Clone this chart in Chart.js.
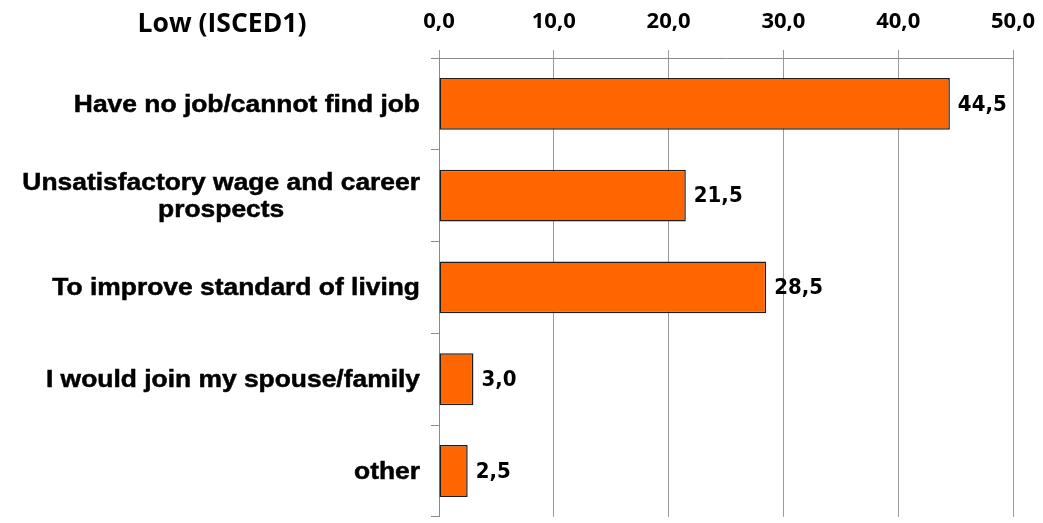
<!DOCTYPE html>
<html>
<head>
<meta charset="utf-8">
<script src="https://cdn.jsdelivr.net/npm/chart.js@4"></script>
<style>
  html, body { margin: 0; padding: 0; background: #fff; overflow: hidden; }
  #wrap { width: 1043px; height: 527px; position: relative; }
</style>
</head>
<body>
<div id="wrap"><canvas id="chart"></canvas></div>
<script>
// Données du graphique
const chartTitle = 'Low (ISCED1)';
const categories = [
    'Have no job/cannot find job',
    ['Unsatisfactory wage and career', 'prospects'],
    'To improve standard of living',
    'I would join my spouse/family',
    'other'
];
const values = [44.5, 21.5, 28.5, 3.0, 2.5];
const xTicks = [0, 10, 20, 30, 40, 50];

const fmt = v => v.toFixed(1).replace('.', ',');

// Titre en haut à gauche
const titlePlugin = {
    id: 'titlePlugin',
    afterDraw(chart) {
        const ctx = chart.ctx;
        ctx.save();
        ctx.font = 'bold 26.5px "Open Sans"';
        ctx.fillStyle = '#000';
        ctx.textAlign = 'center';
        ctx.textBaseline = 'alphabetic';
        ctx.fillText(chartTitle, 222, 32);
        ctx.restore();
    }
};

// Libellés des catégories (alignés à droite, lignes centrées entre elles)
const categoryLabels = {
    id: 'categoryLabels',
    afterDraw(chart) {
        const ctx = chart.ctx;
        const yScale = chart.scales.y;
        const right = 420;
        const lineH = 27;
        const sx = 1.1;   // texte un peu étiré comme dans l'original
        ctx.save();
        ctx.font = 'bold 24px "Liberation Sans"';
        ctx.fillStyle = '#000';
        ctx.strokeStyle = '#000';
        ctx.lineWidth = 0.5;
        ctx.textAlign = 'center';
        ctx.textBaseline = 'middle';
        categories.forEach((lab, i) => {
            const lines = Array.isArray(lab) ? lab : [lab];
            const w = Math.max(...lines.map(l => ctx.measureText(l).width)) * sx;
            const cx = right - w / 2;
            const cy = yScale.getPixelForTick(i) + 1;
            lines.forEach((l, k) => {
                const y = cy + (k - (lines.length - 1) / 2) * lineH;
                ctx.save();
                ctx.translate(cx, y);
                ctx.scale(sx, 1);
                ctx.fillText(l, 0, 0);
                ctx.strokeText(l, 0, 0);
                ctx.restore();
            });
        });
        ctx.restore();
    }
};

// Étiquettes de valeurs à droite des barres
const valueLabels = {
    id: 'valueLabels',
    afterDatasetsDraw(chart) {
        const ctx = chart.ctx;
        const meta = chart.getDatasetMeta(0);
        ctx.save();
        ctx.font = 'bold 22px "DejaVu Sans Condensed"';
        ctx.fillStyle = '#000';
        ctx.textAlign = 'left';
        ctx.textBaseline = 'middle';
        meta.data.forEach((bar, i) => {
            ctx.fillText(fmt(values[i]), bar.x + 8, bar.y + 1);
        });
        ctx.restore();
    }
};

const ctx = document.getElementById('chart').getContext('2d');
new Chart(ctx, {
    type: 'bar',
    data: {
        labels: categories,
        datasets: [{
            data: values,
            backgroundColor: '#FF6600',
            borderColor: '#1e1e1e',
            borderWidth: 1.5,
            borderSkipped: false,
            barPercentage: 0.566,
            categoryPercentage: 1
        }]
    },
    options: {
        indexAxis: 'y',
        responsive: true,
        maintainAspectRatio: false,
        animation: false,
        layout: { padding: { left: 0, right: 30, top: 0, bottom: 1 } },
        plugins: {
            legend: { display: false },
            tooltip: { enabled: false }
        },
        scales: {
            x: {
                position: 'top',
                min: 0,
                max: 50,
                afterBuildTicks(scale) {
                    scale.ticks = xTicks.map(v => ({ value: v }));
                },
                afterFit(scale) {
                    scale.height = 58;
                    scale.paddingRight = 30;
                },
                ticks: {
                    color: '#000',
                    font: { family: 'Open Sans', size: 22, weight: 'bold' },
                    padding: 15,
                    maxRotation: 0,
                    callback: v => fmt(v)
                },
                grid: {
                    color: '#9a9a9a',
                    lineWidth: 1,
                    tickLength: 8
                },
                border: { display: true, color: '#8a8a8a' }
            },
            y: {
                afterFit(scale) { scale.width = 439; },
                ticks: {
                    color: 'rgba(0,0,0,0)',
                    font: { size: 12 }
                },
                grid: {
                    offset: true,
                    drawOnChartArea: false,
                    color: '#8a8a8a',
                    tickLength: 8
                },
                border: { display: true, color: '#8a8a8a' }
            }
        }
    },
    plugins: [titlePlugin, categoryLabels, valueLabels]
});
</script>
</body>
</html>
